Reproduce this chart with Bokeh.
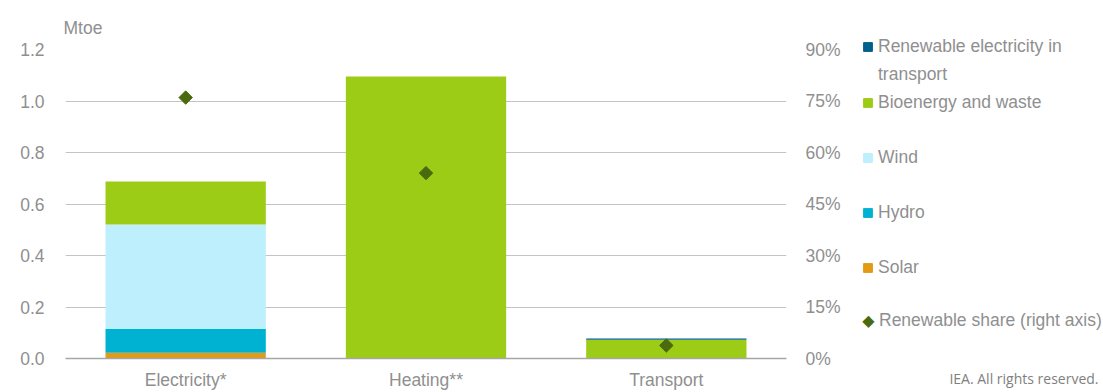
import math
from bokeh.plotting import figure
from bokeh.layouts import row, column
from bokeh.models import (FactorRange, Range1d, LinearAxis, FixedTicker, NumeralTickFormatter,
                          Legend, LegendItem, Label)
from bokeh.embed import file_html
from bokeh.resources import INLINE

categories = ["Electricity*", "Heating**", "Transport"]
solar = [0.022, 0.0, 0.0]
hydro = [0.094, 0.0, 0.0]
wind = [0.404, 0.0, 0.0]
bioenergy = [0.167, 1.095, 0.073]
ren_elec_transport = [0.0, 0.0, 0.005]
renewable_share = [0.76, 0.54, 0.038]
left_ticks = [0, 0.2, 0.4, 0.6, 0.8, 1.0, 1.2]
right_ticks = [0, 0.15, 0.3, 0.45, 0.6, 0.75, 0.9]

stack_keys = ["solar", "hydro", "wind", "bio", "rel"]
stack_colors = ["#E39A14", "#00B2D2", "#BDEFFC", "#9DCC17", "#00608E"]
share_color = "#4B6A0F"

FONT = "Liberation Sans"
TXT = "#8f8f8f"
FS = "17.5px"

p = figure(x_range=FactorRange(*categories), y_range=Range1d(0, 1.2),
           frame_width=721, frame_height=309, output_backend="svg", toolbar_location=None,
           min_border_left=65, min_border_right=64, min_border_top=49, min_border_bottom=34)
p.extra_y_ranges = {"pct": Range1d(0, 0.9)}

data = dict(cat=categories, solar=solar, hydro=hydro, wind=wind, bio=bioenergy,
            rel=ren_elec_transport)
rs = p.vbar_stack(stack_keys, x="cat", width=0.667, color=stack_colors, source=data,
                  line_width=0)

p.scatter(x=categories, y=renewable_share, marker="square", angle=math.pi / 4,
          size=9.5, color=share_color, y_range_name="pct")

# title used as the unit label
p.title.text = "Mtoe"
p.title.align = "left"
p.title.offset = -2
p.title.standoff = 24
p.title.text_font = FONT
p.title.text_font_size = FS
p.title.text_font_style = "normal"
p.title.text_color = TXT

# axes
p.yaxis.ticker = FixedTicker(ticks=left_ticks)
p.yaxis.formatter = NumeralTickFormatter(format="0.0")
p.yaxis.axis_line_color = None
p.yaxis.major_tick_line_color = None
p.yaxis.minor_tick_line_color = None
p.yaxis.major_label_standoff = 15

yr = LinearAxis(y_range_name="pct", ticker=FixedTicker(ticks=right_ticks),
                formatter=NumeralTickFormatter(format="0%"))
yr.axis_line_color = None
yr.major_tick_line_color = None
yr.minor_tick_line_color = None
yr.major_label_standoff = 13
p.add_layout(yr, "right")

p.xaxis.axis_line_color = "#a6a6a6"
p.xaxis.axis_line_width = 1.5
p.xaxis.major_tick_line_color = None
p.xaxis.minor_tick_line_color = None
p.xaxis.major_label_standoff = 5

for ax in [p.xaxis[0], p.yaxis[0], yr]:
    ax.major_label_text_font = FONT
    ax.major_label_text_font_size = FS
    ax.major_label_text_color = TXT

p.xgrid.grid_line_color = None
p.ygrid.ticker = FixedTicker(ticks=left_ticks)
p.ygrid.grid_line_color = "#c4c4c4"
p.ygrid.grid_line_width = 1
p.outline_line_color = None

# legend panel as its own figure
L = figure(width=253, height=392, x_range=Range1d(0, 253), y_range=Range1d(0, 392),
           x_axis_type=None, y_axis_type=None, output_backend="svg", toolbar_location=None,
           min_border=0, outline_line_color=None)
L.xgrid.grid_line_color = None
L.ygrid.grid_line_color = None

leg_names = ["Solar", "Hydro", "Wind", "Bioenergy and waste", "Renewable electricity in"]
proxies = {}
for name, col in zip(leg_names, stack_colors):
    proxies[name] = L.vbar(x=[-500], top=[-500], width=1, color=col)
blank = L.scatter(x=[-500], y=[-500], size=1, alpha=0)

items1 = [
    LegendItem(label="Renewable electricity in", renderers=[proxies["Renewable electricity in"]]),
    LegendItem(label="transport", renderers=[blank]),
    LegendItem(label="Bioenergy and waste", renderers=[proxies["Bioenergy and waste"]]),
    LegendItem(label=" ", renderers=[blank]),
    LegendItem(label="Wind", renderers=[proxies["Wind"]]),
    LegendItem(label=" ", renderers=[blank]),
    LegendItem(label="Hydro", renderers=[proxies["Hydro"]]),
    LegendItem(label=" ", renderers=[blank]),
    LegendItem(label="Solar", renderers=[proxies["Solar"]]),
]
leg1 = Legend(items=items1, location=(12, 114), glyph_width=11, glyph_height=11,
              label_height=20, spacing=7, label_standoff=5, padding=0, margin=0,
              border_line_color=None, background_fill_alpha=0,
              label_text_font=FONT, label_text_font_size=FS, label_text_color=TXT)
leg2 = Legend(items=[LegendItem(label="Renewable share (right axis)", renderers=[blank])],
              location=(7, 61), glyph_width=22, glyph_height=22, label_height=20,
              label_standoff=0, padding=0, margin=0, border_line_color=None,
              background_fill_alpha=0, label_text_font=FONT, label_text_font_size=FS,
              label_text_color=TXT)
L.add_layout(leg1)
L.add_layout(leg2)
# diamond symbol of the share legend entry
L.add_layout(Label(x=18, y=72, text="\u25c6", text_font="DejaVu Sans",
                   text_font_size="16px", text_color=share_color,
                   text_baseline="middle", text_align="center"))
L.add_layout(Label(x=248, y=14, text="IEA. All rights reserved.",
                   text_font="Open Sans", text_font_size="14px",
                   text_color="#808080", text_baseline="middle", text_align="right"))

layout = row(p, column(L), spacing=0)
open("out.html", "w").write(file_html(layout, INLINE))
